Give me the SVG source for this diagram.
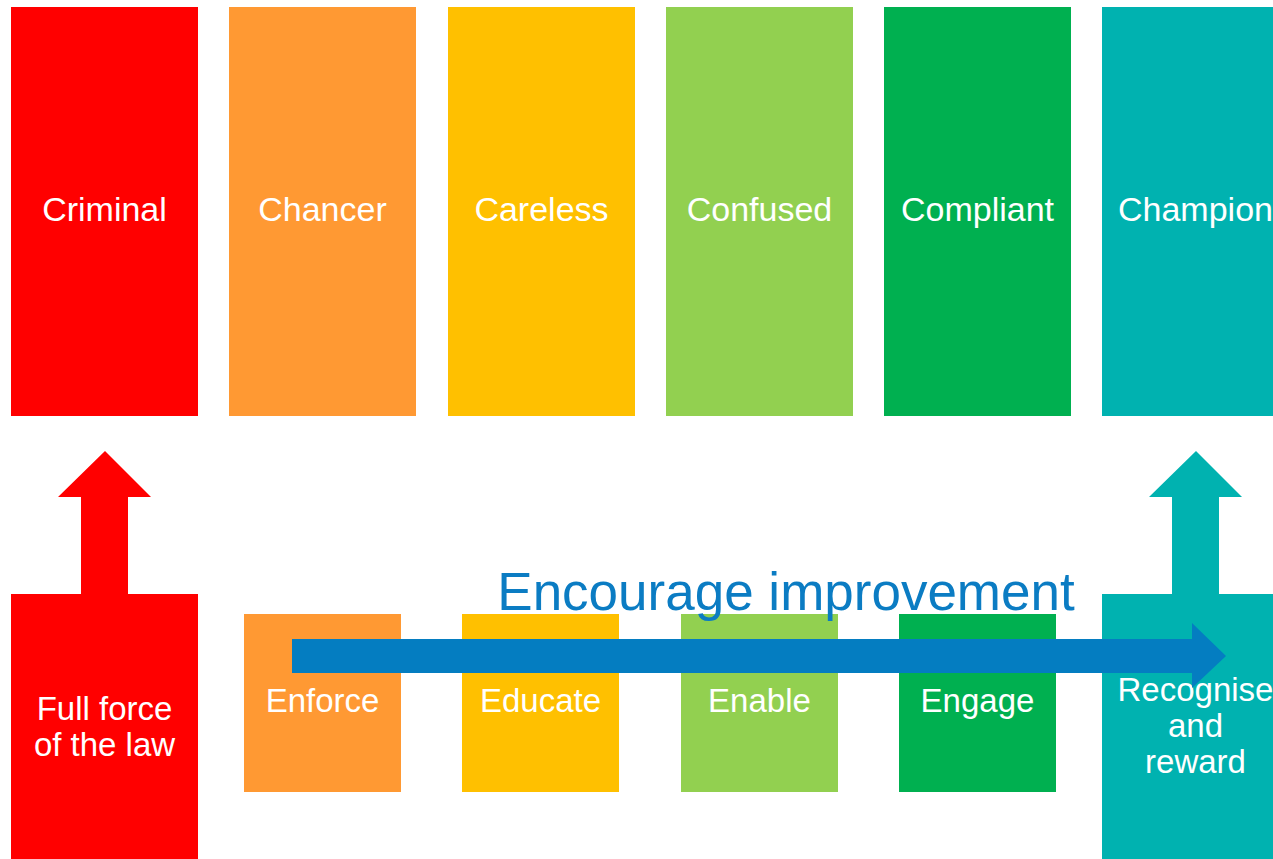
<svg xmlns="http://www.w3.org/2000/svg" width="1273" height="859" viewBox="0 0 1273 859">
<style>
.t{font-family:"Liberation Sans",Arial,sans-serif;fill:#fff;text-anchor:middle;font-size:34px}
.b{font-family:"Liberation Sans",Arial,sans-serif;fill:#fff;text-anchor:middle;font-size:33px}
.red{fill:#FF0000}.org{fill:#FF9933}.yel{fill:#FFC000}.lgr{fill:#92D050}.grn{fill:#00B050}.tea{fill:#00B2B0}
</style>
<rect width="1273" height="859" fill="#fff"/>
<g id="criminal"><rect class="red" x="11" y="7" width="187" height="409"/><text class="t" x="104.5" y="221">Criminal</text></g>
<g id="chancer"><rect class="org" x="229" y="7" width="187" height="409"/><text class="t" x="322.5" y="221">Chancer</text></g>
<g id="careless"><rect class="yel" x="448" y="7" width="187" height="409"/><text class="t" x="541.5" y="221">Careless</text></g>
<g id="confused"><rect class="lgr" x="666" y="7" width="187" height="409"/><text class="t" x="759.5" y="221">Confused</text></g>
<g id="compliant"><rect class="grn" x="884" y="7" width="187" height="409"/><text class="t" x="977.5" y="221">Compliant</text></g>
<g id="champion"><rect class="tea" x="1102" y="7" width="187" height="409"/><text class="t" x="1195.5" y="221">Champion</text></g>

<g id="fullforce"><rect class="red" x="11" y="594" width="187" height="265"/><text class="b" x="104.5" y="720">Full force</text><text class="b" x="104.5" y="756">of the law</text></g>
<g id="enforce"><rect class="org" x="244" y="614" width="157" height="178"/><text class="b" x="322.5" y="712">Enforce</text></g>
<g id="educate"><rect class="yel" x="462" y="614" width="157" height="178"/><text class="b" x="540.5" y="712">Educate</text></g>
<g id="enable"><rect class="lgr" x="681" y="614" width="157" height="178"/><text class="b" x="759.5" y="712">Enable</text></g>
<g id="engage"><rect class="grn" x="899" y="614" width="157" height="178"/><text class="b" x="977.5" y="712">Engage</text></g>
<g id="recognise"><rect class="tea" x="1102" y="594" width="187" height="265"/><text class="b" x="1195.5" y="701">Recognise</text><text class="b" x="1195.5" y="737">and</text><text class="b" x="1195.5" y="773">reward</text></g>

<g id="connectors">
<polygon class="red" points="105,451 151,497 128,497 128,595 81,595 81,497 58,497"/>
<polygon class="tea" points="1196,451 1242,497 1219,497 1219,595 1172,595 1172,497 1149,497"/>
<polygon fill="#047DC1" points="292,639 1192,639 1192,623 1226,656 1192,688 1192,673 292,673"/>
</g>
<text id="encourage" x="786" y="610" font-family="Liberation Sans,Arial,sans-serif" font-size="53" fill="#0B7CC3" text-anchor="middle">Encourage improvement</text>
</svg>
